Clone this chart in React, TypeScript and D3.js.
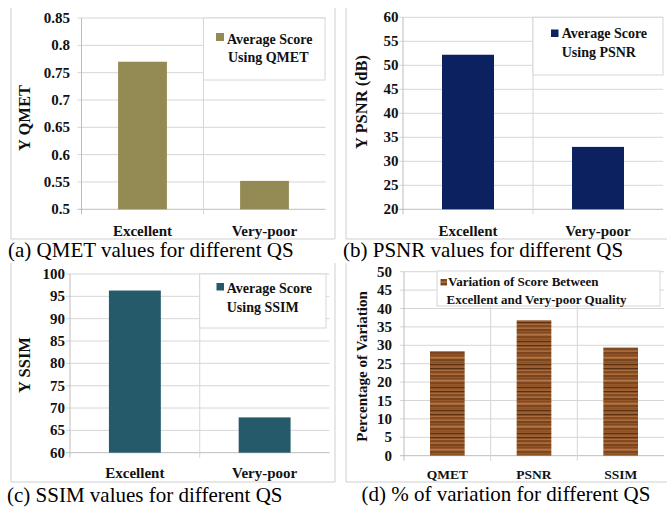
import React from "react";
import * as d3 from "d3";

// ---------- data ----------
const qsCategories = ["Excellent", "Very-poor"];
const qmetValues = [0.77, 0.552];
const psnrValues = [52.2, 33.0];
const ssimValues = [96.3, 67.9];
const metricCategories = ["QMET", "PSNR", "SSIM"];
const variationValues = [28.4, 36.8, 29.4];

const qmetTicks = [0.5, 0.55, 0.6, 0.65, 0.7, 0.75, 0.8, 0.85];
const psnrTicks = [20, 25, 30, 35, 40, 45, 50, 55, 60];
const ssimTicks = [60, 65, 70, 75, 80, 85, 90, 95, 100];
const variationTicks = [0, 5, 10, 15, 20, 25, 30, 35, 40, 45, 50];

const legendQmet = ["Average Score", "Using QMET"];
const legendPsnr = ["Average Score", "Using PSNR"];
const legendSsim = ["Average Score", "Using SSIM"];
const legendVariation = ["Variation of Score Between", "Excellent and Very-poor Quality"];

const titleQmet = "Y QMET";
const titlePsnr = "Y PSNR (dB)";
const titleSsim = "Y SSIM";
const titleVariation = "Percentage of Variation";

const captionA = "(a) QMET values for different QS";
const captionB = "(b) PSNR values for different QS";
const captionC = "(c) SSIM values for different QS";
const captionD = "(d) % of variation for different QS";

// ---------- style ----------
const FONT = "'Liberation Serif', 'Times New Roman', Times, serif";
const GRID = "#d6d6d6";
const AXIS = "#bdbdbd";
const FRAME = "#cfcfcf";
const TEXT = "#111";

const woodStripes: [number, number, string][] = [
  [0, 1.2, "#5c3112"],
  [2, 0.8, "#b07040"],
  [3.5, 1, "#6e3c18"],
  [5.5, 1.5, "#a86a38"],
  [7.5, 1, "#5a2f10"],
  [10, 0.8, "#7a4520"],
  [12, 1.5, "#b37545"],
  [14.5, 1, "#633514"],
  [17, 0.8, "#885022"],
  [19, 1.2, "#5e3212"],
  [21.5, 1, "#a46636"],
];

type PanelProps = {
  frame: { left: number; right: number; top: number; bottom: number };
  plot: { left: number; right: number; top: number; bottom: number };
  cats: string[];
  values: number[];
  ticks: number[];
  fill: string;
  tickRight: number;
  tickSize: number;
  catSize: number;
  catBaseline: number;
  yTitle: { text: string; x: number; y: number; size: number };
  legend: {
    box: { x0: number; x1: number; y0: number; y1: number };
    square: { x: number; y: number; s: number };
    lines: string[];
    xs: number[];
    baselines: number[];
    size: number;
  };
  caption: { text: string; x: number; y: number };
};

function Panel(p: PanelProps) {
  const { plot } = p;
  const y = d3
    .scaleLinear()
    .domain([p.ticks[0], p.ticks[p.ticks.length - 1]])
    .range([plot.bottom, plot.top]);
  const band = d3.scaleBand().domain(p.cats).range([plot.left, plot.right]).padding(0);
  const bars = d3
    .scaleBand()
    .domain(p.cats)
    .range([plot.left, plot.right])
    .paddingInner(0.6)
    .paddingOuter(0.3);
  const L = p.legend;
  return (
    <g>
      <line x1={p.frame.left} x2={p.frame.left} y1={p.frame.top} y2={p.frame.bottom} stroke={FRAME} />
      <line x1={p.frame.right} x2={p.frame.right} y1={p.frame.top} y2={p.frame.bottom} stroke={FRAME} />
      <line x1={p.frame.left} x2={p.frame.right} y1={p.frame.bottom} y2={p.frame.bottom} stroke={FRAME} />
      {p.ticks.map((t, i) => (
        <line key={"g" + i} x1={plot.left - 4} x2={plot.right} y1={y(t)} y2={y(t)} stroke={i === 0 ? AXIS : GRID} />
      ))}
      {p.cats.map((c, i) => (
        <line
          key={"d" + i}
          x1={band(c)!}
          x2={band(c)!}
          y1={plot.top}
          y2={plot.bottom + 5}
          stroke={i === 0 ? AXIS : GRID}
        />
      ))}
      {p.cats.map((c, i) => (
        <rect
          key={"b" + i}
          x={bars(c)!}
          width={bars.bandwidth()}
          y={y(p.values[i])}
          height={y(p.ticks[0]) - y(p.values[i])}
          fill={p.fill}
        />
      ))}
      <rect
        x={L.box.x0}
        y={L.box.y0}
        width={L.box.x1 - L.box.x0}
        height={L.box.y1 - L.box.y0}
        fill="#fff"
        stroke={GRID}
      />
      <rect x={L.square.x} y={L.square.y} width={L.square.s} height={L.square.s} fill={p.fill} />
      {L.lines.map((t, i) => (
        <text
          key={"l" + i}
          x={L.xs[i]}
          y={L.baselines[i]}
          fontFamily={FONT}
          fontWeight="bold"
          fontSize={L.size}
          fill={TEXT}
        >
          {t}
        </text>
      ))}
      {p.ticks.map((t, i) => (
        <text
          key={"t" + i}
          x={p.tickRight}
          y={y(t)}
          dy="0.34em"
          textAnchor="end"
          fontFamily={FONT}
          fontWeight="bold"
          fontSize={p.tickSize}
          fill={TEXT}
        >
          {String(t)}
        </text>
      ))}
      {p.cats.map((c, i) => (
        <text
          key={"c" + i}
          x={(band(c) as number) + band.bandwidth() / 2}
          y={p.catBaseline}
          textAnchor="middle"
          fontFamily={FONT}
          fontWeight="bold"
          fontSize={p.catSize}
          fill={TEXT}
        >
          {c}
        </text>
      ))}
      <text
        transform={`translate(${p.yTitle.x},${p.yTitle.y}) rotate(-90)`}
        dy="0.35em"
        textAnchor="middle"
        fontFamily={FONT}
        fontWeight="bold"
        fontSize={p.yTitle.size}
        fill={TEXT}
      >
        {p.yTitle.text}
      </text>
      <text x={p.caption.x} y={p.caption.y} fontFamily={FONT} fontSize={21} fill="#000">
        {p.caption.text}
      </text>
    </g>
  );
}

export default function App() {
  return (
    <svg
      width={667}
      height={509}
      viewBox="0 0 667 509"
      style={{ position: "absolute", left: 0, top: 0, background: "#fff" }}
    >
      <defs>
        <pattern id="wood" patternUnits="userSpaceOnUse" width={60} height={23}>
          <rect width={60} height={23} fill="#96582a" />
          {woodStripes.map(([sy, h, c], i) => (
            <rect key={i} x={0} y={sy} width={60} height={h} fill={c} />
          ))}
        </pattern>
      </defs>
      <rect width={667} height={509} fill="#fff" />

      <Panel
        frame={{ left: 11, right: 335, top: 8, bottom: 239 }}
        plot={{ left: 81.5, right: 325.5, top: 18, bottom: 209.3 }}
        cats={qsCategories}
        values={qmetValues}
        ticks={qmetTicks}
        fill="#948a54"
        tickRight={70}
        tickSize={15}
        catSize={15}
        catBaseline={235.5}
        yTitle={{ text: titleQmet, x: 24, y: 118, size: 16.5 }}
        legend={{
          box: { x0: 203.5, x1: 325, y0: 18, y1: 80 },
          square: { x: 216, y: 33, s: 8 },
          lines: legendQmet,
          xs: [227, 228],
          baselines: [43.5, 61.5],
          size: 14,
        }}
        caption={{ text: captionA, x: 8, y: 257 }}
      />

      <Panel
        frame={{ left: 346, right: 675, top: 8, bottom: 239 }}
        plot={{ left: 403, right: 663, top: 17.3, bottom: 209.3 }}
        cats={qsCategories}
        values={psnrValues}
        ticks={psnrTicks}
        fill="#0b2160"
        tickRight={398.5}
        tickSize={15}
        catSize={15}
        catBaseline={235.5}
        yTitle={{ text: titlePsnr, x: 361, y: 102, size: 16.5 }}
        legend={{
          box: { x0: 533, x1: 663, y0: 17.3, y1: 75 },
          square: { x: 551, y: 29.5, s: 7.5 },
          lines: legendPsnr,
          xs: [561.7, 561.7],
          baselines: [38.3, 56.7],
          size: 14,
        }}
        caption={{ text: captionB, x: 343, y: 257 }}
      />

      <Panel
        frame={{ left: 11, right: 335, top: 263, bottom: 482 }}
        plot={{ left: 70, right: 329.5, top: 274, bottom: 452.7 }}
        cats={qsCategories}
        values={ssimValues}
        ticks={ssimTicks}
        fill="#245a69"
        tickRight={65}
        tickSize={15}
        catSize={15}
        catBaseline={478.3}
        yTitle={{ text: titleSsim, x: 24, y: 365, size: 16.5 }}
        legend={{
          box: { x0: 199.7, x1: 326, y0: 274, y1: 328 },
          square: { x: 216.5, y: 283, s: 7.5 },
          lines: legendSsim,
          xs: [226.7, 226.7],
          baselines: [292.7, 311.7],
          size: 14,
        }}
        caption={{ text: captionC, x: 7, y: 502 }}
      />

      <Panel
        frame={{ left: 346, right: 675, top: 263, bottom: 482 }}
        plot={{ left: 404, right: 664, top: 271.7, bottom: 455.7 }}
        cats={metricCategories}
        values={variationValues}
        ticks={variationTicks}
        fill="url(#wood)"
        tickRight={392}
        tickSize={15}
        catSize={13.5}
        catBaseline={479}
        yTitle={{ text: titleVariation, x: 361.5, y: 366.5, size: 15 }}
        legend={{
          box: { x0: 437, x1: 660, y0: 271, y1: 306 },
          square: { x: 440.5, y: 279, s: 6.5 },
          lines: legendVariation,
          xs: [448, 446.5],
          baselines: [285.7, 304],
          size: 13,
        }}
        caption={{ text: captionD, x: 361.5, y: 501 }}
      />
    </svg>
  );
}
